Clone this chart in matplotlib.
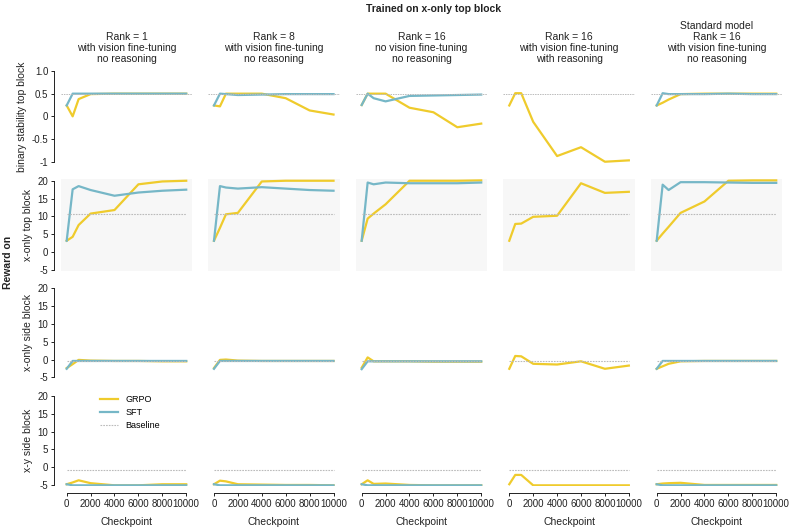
import numpy as np
import matplotlib
matplotlib.use("Agg")
import matplotlib.pyplot as plt

plt.rcParams['font.family'] = ['Liberation Sans', 'DejaVu Sans']
plt.rcParams['font.size'] = 7

checkpoints = [0, 500, 1000, 2000, 4000, 6000, 8000, 10000]

col_titles = [
    "Rank = 1\nwith vision fine-tuning\nno reasoning",
    "Rank = 8\nwith vision fine-tuning\nno reasoning",
    "Rank = 16\nno vision fine-tuning\nno reasoning",
    "Rank = 16\nwith vision fine-tuning\nwith reasoning",
    "Standard model\nRank = 16\nwith vision fine-tuning\nno reasoning",
]
row_labels = ["binary stability top block", "x-only top block",
              "x-only side block", "x-y side block"]
baselines = [0.5, 10.75, -0.35, -0.8]

# GRPO, one list per column
grpo_stability = [
    [0.24, 0.0, 0.38, 0.49, 0.5, 0.5, 0.5, 0.5],
    [0.24, 0.22, 0.5, 0.5, 0.5, 0.4, 0.13, 0.04],
    [0.25, 0.5, 0.5, 0.5, 0.19, 0.09, -0.24, -0.16],
    [0.24, 0.51, 0.51, -0.12, -0.875, -0.68, -1.0, -0.97],
    [0.24, 0.30, 0.37, 0.49, 0.5, 0.5, 0.5, 0.5],
]
grpo_xonly_top = [
    [3.2, 4.3, 7.6, 10.8, 11.8, 19.0, 19.8, 20.0],
    [3.2, 6.8, 10.6, 11.0, 19.8, 20.0, 20.0, 20.0],
    [3.2, 9.4, 10.8, 13.4, 20.0, 20.0, 20.0, 20.1],
    [3.2, 7.9, 8.0, 9.9, 10.2, 19.3, 16.6, 16.9],
    [3.2, 5.2, 7.1, 11.0, 14.2, 20.0, 20.1, 20.1],
]
grpo_xonly_side = [
    [-2.4, -1.3, -0.1, -0.3, -0.4, -0.4, -0.5, -0.5],
    [-2.4, -0.1, 0.0, -0.3, -0.4, -0.4, -0.4, -0.4],
    [-2.3, 0.6, -0.5, -0.5, -0.5, -0.6, -0.6, -0.6],
    [-2.6, 1.0, 0.9, -1.2, -1.4, -0.5, -2.6, -1.7],
    [-2.6, -1.9, -1.2, -0.5, -0.4, -0.4, -0.4, -0.4],
]
grpo_xy_side = [
    [-4.7, -4.2, -3.6, -4.4, -5.0, -5.0, -4.7, -4.7],
    [-4.7, -3.7, -3.9, -4.7, -4.8, -4.9, -4.9, -5.0],
    [-4.7, -3.6, -4.6, -4.5, -4.9, -5.0, -5.0, -5.0],
    [-4.7, -2.1, -2.1, -5.0, -5.0, -5.0, -5.0, -5.0],
    [-4.7, -4.5, -4.4, -4.3, -4.9, -4.9, -4.9, -4.9],
]

# SFT (no SFT run for the reasoning column)
sft_stability = [
    [0.24, 0.5, 0.5, 0.5, 0.5, 0.5, 0.5, 0.5],
    [0.24, 0.5, 0.49, 0.47, 0.48, 0.49, 0.49, 0.49],
    [0.25, 0.5, 0.40, 0.33, 0.45, 0.46, 0.47, 0.48],
    None,
    [0.24, 0.51, 0.49, 0.49, 0.49, 0.5, 0.49, 0.49],
]
sft_xonly_top = [
    [3.2, 17.6, 18.5, 17.4, 15.8, 16.7, 17.2, 17.5],
    [3.2, 18.5, 18.1, 17.8, 18.2, 17.8, 17.4, 17.2],
    [3.2, 19.5, 19.0, 19.5, 19.3, 19.3, 19.3, 19.5],
    None,
    [3.2, 18.9, 17.4, 19.6, 19.6, 19.5, 19.4, 19.4],
]
sft_xonly_side = [
    [-2.6, -0.4, -0.4, -0.4, -0.4, -0.4, -0.4, -0.4],
    [-2.6, -0.4, -0.4, -0.4, -0.4, -0.4, -0.4, -0.4],
    [-2.7, -0.5, -0.5, -0.5, -0.5, -0.5, -0.5, -0.5],
    None,
    [-2.6, -0.4, -0.4, -0.4, -0.4, -0.4, -0.4, -0.4],
]
sft_xy_side = [
    [-4.7, -5.0, -5.0, -5.0, -5.0, -5.0, -5.0, -5.0],
    [-4.7, -5.0, -5.0, -5.0, -5.0, -5.0, -5.0, -5.0],
    [-4.7, -5.0, -5.0, -5.0, -5.0, -5.0, -5.0, -5.0],
    None,
    [-4.7, -5.0, -5.0, -5.0, -5.0, -5.0, -5.0, -5.0],
]

grpo_rows = [grpo_stability, grpo_xonly_top, grpo_xonly_side, grpo_xy_side]
sft_rows = [sft_stability, sft_xonly_top, sft_xonly_side, sft_xy_side]

GRPO_C = '#EFCB2C'
SFT_C = '#76B7C7'
BASE_C = '#BBBBBB'
TXT = '#222222'

W, H = 793, 529
fig = plt.figure(figsize=(W / 100, H / 100), dpi=100)

col_left = [60.7, 208.0, 355.7, 503.3, 650.7]
col_w = 131.5
row_box = [(68.7, 164.0), (178.6, 271.1), (286.2, 378.4), (393.5, 486.4)]
row_ylim = [(-1.05, 1.05), (-5.3, 20.6), (-5.3, 20.6), (-5.3, 20.6)]


def px_axes(left, top, width, height):
    return fig.add_axes([left / W, 1 - (top + height) / H, width / W, height / H])


axes = []
for r in range(4):
    top, bot = row_box[r]
    row_axes = []
    for c in range(5):
        ax = px_axes(col_left[c], top, col_w, bot - top)
        ax.plot(checkpoints, grpo_rows[r][c], color=GRPO_C, lw=1.6, label='GRPO')
        if sft_rows[r][c] is not None:
            ax.plot(checkpoints, sft_rows[r][c], color=SFT_C, lw=1.6, label='SFT')
        if r == 0:
            ax.axhline(baselines[r], color=BASE_C, lw=0.7, ls=(0, (1.5, 1)), label='Baseline')
        else:
            ax.plot([0, 10000], [baselines[r]] * 2, color=BASE_C, lw=0.8,
                    ls=(0, (1.5, 1)), label='Baseline')
        ax.set_ylim(*row_ylim[r])
        ax.set_xlim(-500, 10500)
        ax.set_facecolor('#F7F7F7' if r == 1 else 'none')
        for s in ['top', 'right', 'left', 'bottom']:
            ax.spines[s].set_visible(False)
        ax.tick_params(colors=TXT, labelsize=7, length=2.5, width=0.7, pad=1.5)
        if c == 0:
            sp = ax.spines['left']
            sp.set_visible(True)
            sp.set_position(('outward', 5))
            sp.set_linewidth(0.7)
            sp.set_color(TXT)
            if r == 0:
                ax.set_yticks([-1, -0.5, 0, 0.5, 1])
                ax.set_yticklabels(['-1', '-0.5', '0', '0.5', '1.0'])
                sp.set_bounds(-1, 1)
            else:
                ax.set_yticks([-5, 0, 5, 10, 15, 20])
                ax.set_yticklabels(['-5', '0', '5', '10', '15', '20'])
                sp.set_bounds(-5, 20)
            ax.set_ylabel(row_labels[r], fontsize=7.5, color=TXT, labelpad=3)
        else:
            ax.set_yticks([])
        if r == 3:
            sp = ax.spines['bottom']
            sp.set_visible(True)
            sp.set_position(('outward', 5))
            sp.set_linewidth(0.7)
            sp.set_color(TXT)
            sp.set_bounds(0, 10000)
            ax.set_xticks([0, 2000, 4000, 6000, 8000, 10000])
            ax.set_xticklabels(['0', '2000', '4000', '6000', '8000', '10000'])
            ax.set_xlabel('Checkpoint', fontsize=7.5, color=TXT, labelpad=6)
        else:
            ax.set_xticks([])
        if r == 0:
            ax.set_title(col_titles[c], fontsize=7.5, color=TXT, pad=5, linespacing=1.1)
        row_axes.append(ax)
    axes.append(row_axes)

fig.text(434 / W, 1 - 8.5 / H, 'Trained on x-only top block', ha='center', va='center',
         fontsize=7.5, fontweight='bold', color=TXT)
fig.text(8 / W, 1 - 262 / H, 'Reward on', ha='center', va='center', rotation=90,
         fontsize=7.5, fontweight='bold', color=TXT)

axes[3][0].legend(loc='upper left', bbox_to_anchor=(100 / W, 1 - 395 / H),
                  bbox_transform=fig.transFigure, frameon=False, fontsize=6.5,
                  handlelength=2.0, handletextpad=0.8, labelspacing=0.45,
                  borderpad=0, borderaxespad=0)

fig.savefig('out.png', dpi=100)
